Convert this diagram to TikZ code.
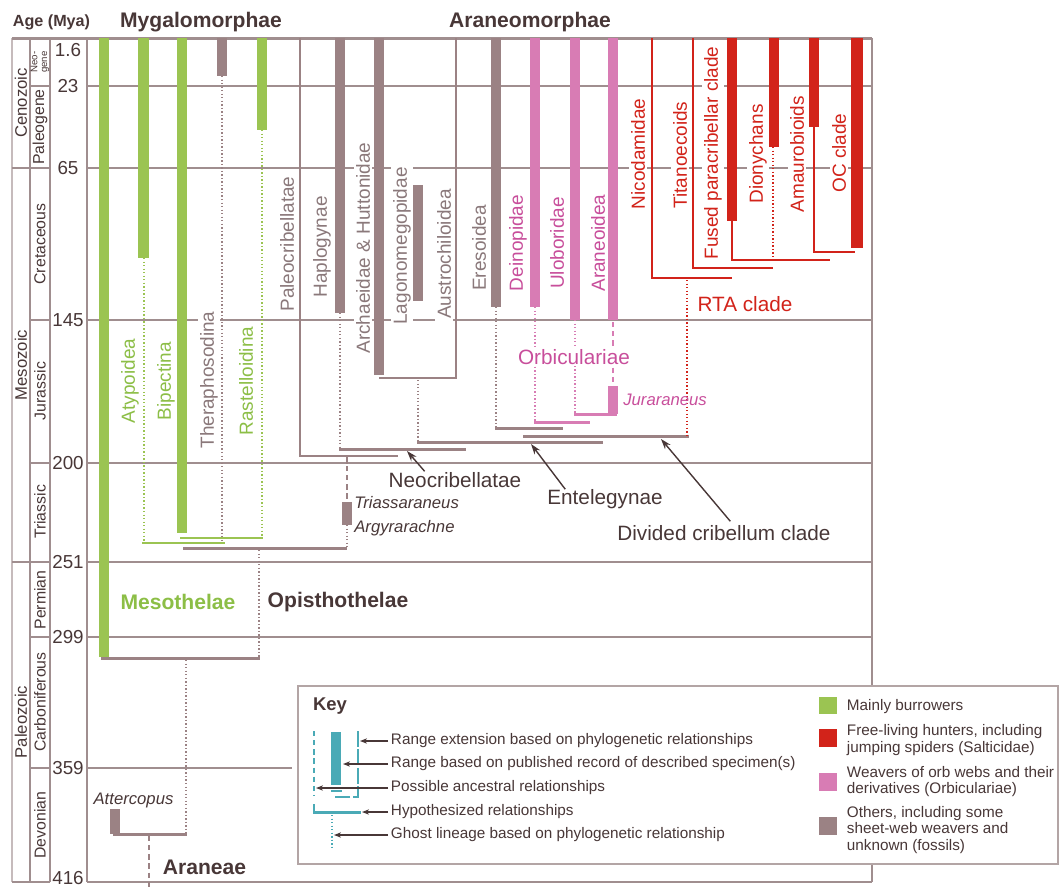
\documentclass[tikz,border=0pt]{standalone}
\usepackage{fontspec}
\setmainfont{Liberation Sans}
\usepackage{tikz}
\usetikzlibrary{arrows.meta,calc}
\definecolor{Burrow}{RGB}{155,196,82}
\definecolor{BurrowText}{RGB}{140,190,70}
\definecolor{Hunter}{RGB}{210,35,26}
\definecolor{Orb}{RGB}{216,124,180}
\definecolor{OrbText}{RGB}{200,78,155}
\definecolor{Other}{RGB}{155,130,132}
\definecolor{OtherText}{RGB}{138,120,122}
\definecolor{Grid}{RGB}{160,142,143}
\definecolor{Ink}{RGB}{72,55,55}
\definecolor{KeyTeal}{RGB}{74,170,182}
\tikzset{
GridLine/.style={
 draw=Grid,
 line width=1.1pt
 },
RangeBar/.style={
 line width=5.7pt
 },
GhostLine/.style={
 line width=1.1pt,
 dash pattern=on 0.8pt off 1.2pt
 },
AncestorLine/.style={
 line width=1.1pt,
 dash pattern=on 3pt off 2.2pt
 },
HypoLine/.style={
 line width=1.7pt
 },
ThinLine/.style={
 line width=1.1pt
 },
CladeLabel/.style={
 rotate=90,
 fill=white,
 inner sep=1pt,
 font=\fontsize{10.8}{12}\selectfont
 },
BigLabel/.style={
 font=\fontsize{11.8}{14}\selectfont,
 text=Ink,
 inner sep=1pt
 },
BoldLabel/.style={
 font=\bfseries\fontsize{12}{14}\selectfont,
 text=Ink
 },
FossilLabel/.style={
 font=\itshape\fontsize{9.5}{11}\selectfont,
 text=Ink,
 inner sep=0pt
 },
AgeLabel/.style={
 font=\fontsize{10.7}{12}\selectfont,
 text=Ink,
 inner sep=0pt
 },
PeriodLabel/.style={
 rotate=90,
 font=\fontsize{9}{10}\selectfont,
 text=Ink,
 inner sep=0pt
 },
Callout/.style={
 draw=Ink,
 line width=0.8pt,
 -{Stealth[length=6pt,width=4pt]}
 },
KeyText/.style={
 font=\fontsize{8.7}{9.5}\selectfont,
 text=Ink,
 inner sep=1.5pt,
 anchor=west,
 align=left
 },
KeyArrow/.style={
 draw=Ink,
 line width=0.7pt,
 -{Stealth[length=4pt,width=3pt]}
 },
Swatch/.style={
 minimum size=10.2pt,
 inner sep=0pt
 }
}

\begin{document}
\begin{tikzpicture}[x=0.02cm,y=-0.02cm]
\useasboundingbox (0,0) rectangle (1059,887);
% time scale
\draw[GridLine, draw=Grid!60, line width=0.7pt] (12,38) -- (12,882);
\draw[GridLine] (30,38) -- (30,882);
\draw[GridLine] (50,38) -- (50,882);
\draw[GridLine] (87,38) -- (87,882);
\draw[GridLine] (872,38) -- (872,882);
\draw[GridLine] (12,168) -- (30,168);
\draw[GridLine] (12,562) -- (30,562);
\draw[GridLine] (30,86) -- (50,86);
\draw[GridLine] (30,168) -- (50,168);
\draw[GridLine] (30,320) -- (50,320);
\draw[GridLine] (30,463) -- (50,463);
\draw[GridLine] (30,562) -- (50,562);
\draw[GridLine] (30,637) -- (50,637);
\draw[GridLine] (30,768) -- (50,768);
\draw[GridLine] (87,86) -- (872,86);
\draw[GridLine] (87,168) -- (872,168);
\draw[GridLine] (87,320) -- (872,320);
\draw[GridLine] (87,463) -- (872,463);
\draw[GridLine] (87,562) -- (872,562);
\draw[GridLine] (87,637) -- (872,637);
\draw[GridLine, line width=0.7pt] (87,768) -- (292,768);
\draw[GridLine, line width=1.7pt] (12,38) -- (872,38);
\draw[GridLine] (12,882) -- (50,882);
\draw[GridLine] (87,882) -- (872,882);

\node[BoldLabel, font=\bfseries\fontsize{9.2}{11}\selectfont] (agehead) at (51.5,22) {Age (Mya)};
\node[AgeLabel] (a16) at (68,50) {1.6};
\node[AgeLabel] (a23) at (68,86) {23};
\node[AgeLabel] (a65) at (68,168) {65};
\node[AgeLabel] (a145) at (68,320) {145};
\node[AgeLabel] (a200) at (68,463) {200};
\node[AgeLabel] (a251) at (68,562) {251};
\node[AgeLabel] (a299) at (68,637) {299};
\node[AgeLabel] (a359) at (68,768) {359};
\node[AgeLabel] (a416) at (68,878) {416};
\node[PeriodLabel, font=\fontsize{9.5}{10}\selectfont] (ceno) at (21,103) {Cenozoic};
\node[PeriodLabel, font=\fontsize{9.5}{10}\selectfont] (meso) at (21,365) {Mesozoic};
\node[PeriodLabel, font=\fontsize{9.5}{10}\selectfont] (paleo) at (21,722) {Paleozoic};
\node[PeriodLabel, font=\fontsize{5.5}{5.5}\selectfont, align=center] (neog) at (40,62) {Neo-\\gene};
\node[PeriodLabel] (paleog) at (40,127) {Paleogene};
\node[PeriodLabel] (creta) at (40,244) {Cretaceous};
\node[PeriodLabel] (jura) at (40,391) {Jurassic};
\node[PeriodLabel] (trias) at (40,512) {Triassic};
\node[PeriodLabel] (perm) at (40,600) {Permian};
\node[PeriodLabel] (carbo) at (40,702) {Carboniferous};
\node[PeriodLabel] (devo) at (40,825) {Devonian};

% clade names
\node[CladeLabel, text=BurrowText] (atyp) at (130,381) {Atypoidea};
\node[CladeLabel, text=BurrowText] (bipec) at (166,381) {Bipectina};
\node[CladeLabel, text=OtherText] (thera) at (209,380) {Theraphosodina};
\node[CladeLabel, text=BurrowText] (raste) at (246,381) {Rastelloidina};
\node[CladeLabel, text=OtherText] (paleoc) at (287,244) {Paleocribellatae};
\node[CladeLabel, text=OtherText] (haplo) at (322,247) {Haplogynae};
\node[CladeLabel, text=OtherText] (archae) at (363,248) {Archaeidae~\&~Huttonidae};
\node[CladeLabel, text=OtherText] (lagono) at (402,246) {Lagonomegopidae};
\node[CladeLabel, text=OtherText] (austro) at (444,254) {Austrochiloidea};
\node[CladeLabel, text=OtherText] (ereso) at (479,248) {Eresoidea};
\node[CladeLabel, text=OrbText] (deino) at (518,243) {Deinopidae};
\node[CladeLabel, text=OrbText] (ulobo) at (557,243) {Uloboridae};
\node[CladeLabel, text=OrbText] (aranei) at (598,243) {Araneoidea};
\node[CladeLabel, text=Hunter] (nicod) at (638,154) {Nicodamidae};
\node[CladeLabel, text=Hunter] (titan) at (680,155) {Titanoecoids};
\node[CladeLabel, text=Hunter] (fused) at (713,153) {Fused paracribellar clade};
\node[CladeLabel, text=Hunter] (diony) at (758,154) {Dionychans};
\node[CladeLabel, text=Hunter] (amaur) at (797,154) {Amaurobioids};
\node[CladeLabel, text=Hunter] (occl) at (839,153) {OC clade};

% Mesothelae and Mygalomorphae
\draw[RangeBar, Burrow] (104,38) -- (104,657);
\draw[RangeBar, Burrow] (143.5,38) -- (143.5,258);
\draw[GhostLine, Burrow] (144,258) -- (144,543);
\draw[RangeBar, Burrow] (182,38) -- (182,533);
\draw[RangeBar, Other] (222,38) -- (222,76);
\draw[GhostLine, Other] (222,76) -- (222,543);
\draw[RangeBar, Burrow] (262,38) -- (262,130);
\draw[GhostLine, Burrow] (262,130) -- (262,538);
\draw[ThinLine, Burrow] (180,538) -- (263,538);
\draw[ThinLine, Burrow] (142,543) -- (225,543);
\draw[HypoLine, Other] (183,548) -- (347,548);
\draw[GhostLine, Other] (259,550) -- (259,657);
\draw[HypoLine, Other] (101,658) -- (260,658);
\draw[GhostLine, Other] (186,660) -- (186,833);
\draw[RangeBar, Other] (115,809) -- (115,834);
\draw[HypoLine, Other] (113,834) -- (187,834);
\draw[AncestorLine, Other] (149,836) -- (149,887);

% Araneomorphae
\draw[ThinLine, Other] (300,38) -- (300,456) -- (398,456);
\draw[ThinLine, Other] (347,456) -- (347,464);
\draw[AncestorLine, Other] (347,466) -- (347,502);
\draw[RangeBar, Other] (347,502) -- (347,525);
\draw[GhostLine, Other] (347,525) -- (347,547);
\draw[RangeBar, Other] (340,38) -- (340,313);
\draw[GhostLine, Other] (340,313) -- (340,448);
\draw[HypoLine, Other] (339,449) -- (466,449);
\draw[RangeBar, Other] (379,38) -- (379,375);
\draw[RangeBar, Other] (418,185) -- (418,301);
\draw[ThinLine, Other] (456,38) -- (456,378) -- (379,378);
\draw[GhostLine, Other] (418,380) -- (418,441);
\draw[HypoLine, Other] (417,442) -- (603,442);
\draw[RangeBar, Other] (496,38) -- (496,307);
\draw[GhostLine, Other] (496,307) -- (496,427);
\draw[HypoLine, Other] (495,428) -- (563,428);
\draw[HypoLine, Other] (523,436) -- (689,436);

% Orbiculariae
\draw[RangeBar, Orb] (535,38) -- (535,307);
\draw[GhostLine, Orb] (535,307) -- (535,421);
\draw[HypoLine, Orb] (534,422) -- (590,422);
\draw[RangeBar, Orb] (575,38) -- (575,320);
\draw[GhostLine, Orb] (575,320) -- (575,413);
\draw[HypoLine, Orb] (574,414) -- (617,414);
\draw[RangeBar, Orb] (613,38) -- (613,320);
\draw[AncestorLine, Orb] (613,322) -- (613,386);
\draw[RangeBar, Orb] (613,386) -- (613,414);

% RTA clade
\draw[ThinLine, Hunter] (652,38) -- (652,278) -- (732,278);
\draw[ThinLine, Hunter] (693,38) -- (693,268) -- (773,268);
\draw[RangeBar, Hunter] (732,38) -- (732,221);
\draw[ThinLine, Hunter] (732,221) -- (732,260) -- (830,260);
\draw[RangeBar, Hunter] (774,38) -- (774,147);
\draw[GhostLine, Hunter] (773,147) -- (773,257);
\draw[RangeBar, Hunter] (814,38) -- (814,127);
\draw[ThinLine, Hunter] (814,127) -- (814,252) -- (855,252);
\draw[RangeBar, Hunter, line width=6.5pt] (857,38) -- (857,248);
\draw[GhostLine, Hunter] (687,280) -- (687,435);

% group names
\node[BoldLabel] (mygalo) at (201,22) {Mygalomorphae};
\node[BoldLabel] (araneo) at (530,22) {Araneomorphae};
\node[BoldLabel, text=BurrowText] (mesoth) at (178,602) {Mesothelae};
\node[BoldLabel] (opisth) at (338,602) {Opisthothelae};
\node[BoldLabel] (aranea) at (204.5,867) {Araneae};
\node[FossilLabel] (atterc) at (133.5,800) {Attercopus};
\node[FossilLabel, anchor=west] (triass) at (354,503) {Triassaraneus};
\node[FossilLabel, anchor=west] (argyr) at (354,528) {Argyrarachne};
\node[FossilLabel, anchor=west, text=OrbText] (jurar) at (623,400) {Juraraneus};
\node[BigLabel, text=OrbText, fill=white] (orbic) at (574,357) {Orbiculariae};
\node[BigLabel, text=Hunter] (rta) at (745,304) {RTA clade};

\node[BigLabel] (neocrib) at (455,480) {Neocribellatae};
\node[BigLabel] (entel) at (605,499) {Entelegynae};
\node[BigLabel] (divcrib) at (724,533) {Divided cribellum clade};
\coordinate (neotip) at (407,451);
\coordinate (enteltip) at (531,444);
\coordinate (divtip) at (661,439);
\draw[Callout] ($(neocrib.north west)+(38,1)$) -- (neotip);
\draw[Callout] ($(entel.north west)+(20,2)$) -- (enteltip);
\draw[Callout] ($(divcrib.north west)+(115,-2)$) -- (divtip);

% key
\draw[draw=Grid!80, fill=white, line width=0.85pt] (298,686) rectangle (1058,864);
\node[BoldLabel, font=\bfseries\fontsize{10.5}{12}\selectfont] (keyhead) at (330,706) {Key};
\draw[AncestorLine, KeyTeal] (314,731) -- (314,795);
\draw[RangeBar, KeyTeal] (336,732) -- (336,785);
\draw[KeyTeal, line width=0.7pt] (331,791) -- (342,791);
\draw[KeyTeal, line width=1.1pt, dash pattern=on 9pt off 1.5pt] (358,731) -- (358,797) -- (335,797);
\draw[HypoLine, KeyTeal] (314,804) -- (314,812) -- (361,812);
\draw[GhostLine, KeyTeal] (332,815) -- (332,850);

\node[KeyText] (kext) at (388,741) {Range extension based on phylogenetic relationships};
\node[KeyText] (krec) at (388,764) {Range based on published record of described specimen(s)};
\node[KeyText] (kanc) at (388,788) {Possible ancestral relationships};
\node[KeyText] (khyp) at (388,812) {Hypothesized relationships};
\node[KeyText] (kgho) at (388,835) {Ghost lineage based on phylogenetic relationship};
\coordinate (kexttip) at (360,741);
\coordinate (krectip) at (343,764);
\coordinate (kanctip) at (316,788);
\coordinate (khyptip) at (362,812);
\coordinate (kghotip) at (334,835);
\draw[KeyArrow] (kext.west) -- (kexttip);
\draw[KeyArrow] (krec.west) -- (krectip);
\draw[KeyArrow] (kanc.west) -- (kanctip);
\draw[KeyArrow] (khyp.west) -- (khyptip);
\draw[KeyArrow] (kgho.west) -- (kghotip);

\node[Swatch, fill=Burrow] (swburrow) at (828,705.5) {};
\node[Swatch, fill=Hunter] (swhunter) at (828,738) {};
\node[Swatch, fill=Orb] (sworb) at (828,782) {};
\node[Swatch, fill=Other] (swother) at (828,826) {};
\node[KeyText] (lgburrow) at (844,707) {Mainly burrowers};
\node[KeyText] (lghunter) at (844,740) {Free-living hunters, including\\jumping spiders (Salticidae)};
\node[KeyText] (lgorb) at (844,781.5) {Weavers of orb webs and their\\derivatives (Orbiculariae)};
\node[KeyText] (lgother) at (844,830) {Others, including some\\sheet-web weavers and\\unknown (fossils)};
\end{tikzpicture}
\end{document}
